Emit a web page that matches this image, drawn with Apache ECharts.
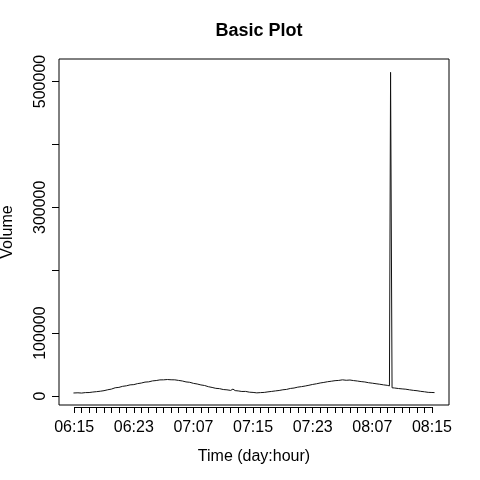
<!DOCTYPE html>
<html>
<head>
<meta charset="utf-8">
<script src="https://cdn.jsdelivr.net/npm/echarts@6/dist/echarts.min.js"></script>
<style>
  html, body { margin: 0; padding: 0; background: #fff; }
  #chart { width: 480px; height: 480px; }
</style>
</head>
<body>
<div id="chart"></div>
<script>
// hours after day 06, hour 15
const hours = [
  -0.1, 0.5, 1.0, 1.5, 2.0, 2.5, 3.0, 3.5, 4.0, 4.5, 5.0, 5.5, 6.0, 6.5, 7.0, 7.5,
  8.0, 8.5, 9.0, 9.5, 10.0, 10.5, 11.0, 11.5, 12.0, 12.5, 13.0, 13.5, 14.0, 14.5,
  15.0, 15.5, 16.0, 16.5, 17.0, 17.5, 18.0, 18.5, 19.0, 19.5, 20.0, 20.5, 21.0,
  21.3, 21.6, 22.0, 22.5, 23.0, 23.5, 24.0, 24.5, 25.0, 25.5, 26.0, 26.5, 27.0,
  27.5, 28.0, 28.5, 29.0, 29.5, 30.0, 30.5, 31.0, 31.5, 32.0, 32.5, 33.0, 33.5,
  34.0, 34.5, 35.0, 35.5, 36.0, 36.5, 37.0, 37.5, 38.0, 38.5, 39.0, 39.5, 40.0,
  40.5, 41.0, 41.5, 42.0, 42.3, 42.45, 42.65, 43.0, 43.5, 44.0, 44.5, 45.0, 45.5,
  46.0, 46.5, 47.0, 47.5, 48.0, 48.35
]
const volume = [
  4800, 5100, 4700, 5400, 5500, 6300, 6900, 7600, 8500, 9900, 11000, 13100, 13700, 15400, 16200, 17700,
  18100, 19700, 20600, 22100, 22500, 24000, 24600, 25600, 25700, 26200, 25800, 25700, 24800, 23900,
  22400, 21800, 20100, 19100, 17600, 16700, 14800, 13600, 12200, 11700, 10300, 9800, 8900,
  11000, 8600, 8100, 7200, 7300, 6100, 5700, 5000, 5400, 5700, 6600, 7300, 8100,
  8800, 9900, 10500, 12000, 12700, 14100, 14900, 15900, 17100, 18400, 19400, 20700, 21600,
  22700, 23500, 24400, 24800, 25700, 25000, 25400, 24500, 23800, 22900, 22300, 21100, 20400,
  19500, 18700, 17700, 17000, 16100, 514600, 13100, 12700, 11900, 11300, 10800, 9800, 9000,
  8400, 7400, 6700, 5800, 5600, 5400
]
const xLabelValues = [0, 8, 16, 24, 32, 40, 48]
const xTickLabels = ['06:15', '06:23', '07:07', '07:15', '07:23', '08:07', '08:15']
const yTickValues = [0, 100000, 200000, 300000, 400000, 500000]
const yLabelValues = [0, 100000, 300000, 500000]

const xTickValues = []
for (let h = 0; h <= 48; h++) xTickValues.push(h)

const chart = echarts.init(document.getElementById('chart'))
const font = 'Liberation Sans, Arial, Helvetica, sans-serif'

chart.setOption({
  animation: false,
  title: {
    text: 'Basic Plot',
    left: 254,
    textAlign: 'center',
    top: 17,
    textStyle: { fontFamily: font, fontSize: 18, fontWeight: 'bold', color: '#000' }
  },
  grid: {
    left: 59, right: 31, top: 59, bottom: 75,
    containLabel: false,
    outerBoundsMode: 'none',
    show: true,
    borderColor: '#000',
    borderWidth: 1
  },
  xAxis: {
    type: 'value',
    min: -2.04,
    max: 50.29,
    offset: 2,
    name: 'Time (day:hour)',
    nameLocation: 'middle',
    nameGap: 42,
    nameTextStyle: { fontFamily: font, fontSize: 16, color: '#000' },
    axisLine: { show: false, onZero: false },
    axisTick: { show: true, inside: false, length: 6, customValues: xTickValues, lineStyle: { color: '#000' } },
    axisLabel: {
      customValues: xLabelValues,
      margin: 13,
      fontFamily: font, fontSize: 16, color: '#000',
      formatter: v => xTickLabels[xLabelValues.indexOf(Math.round(v))]
    },
    splitLine: { show: false }
  },
  yAxis: {
    type: 'value',
    min: -14300,
    max: 535800,
    name: 'Volume',
    nameLocation: 'middle',
    nameGap: 43,
    nameTextStyle: { fontFamily: font, fontSize: 16, color: '#000' },
    axisLine: { show: false, onZero: false },
    axisTick: { show: true, inside: false, length: 7, customValues: yTickValues, lineStyle: { color: '#000' } },
    axisLabel: {
      customValues: yLabelValues,
      rotate: 90,
      margin: 10,
      fontFamily: font, fontSize: 16, color: '#000',
      formatter: v => String(Math.round(v))
    },
    splitLine: { show: false }
  },
  series: [
    {
      type: 'line',
      data: hours.map((h, i) => [h, volume[i]]),
      showSymbol: false,
      lineStyle: { color: '#111', width: 1 }
    }
  ]
})

// R draws the x axis line only from the first to the last tick
const x0 = chart.convertToPixel({ xAxisIndex: 0 }, xTickValues[0])
const x1 = chart.convertToPixel({ xAxisIndex: 0 }, xTickValues[xTickValues.length - 1])
const yBase = Math.round(chart.convertToPixel({ yAxisIndex: 0 }, -14300)) + 2.5
chart.setOption({
  graphic: [{
    type: 'line',
    shape: { x1: x0, y1: yBase, x2: x1, y2: yBase },
    style: { stroke: '#000', lineWidth: 1 }
  }]
})
</script>
</body>
</html>
